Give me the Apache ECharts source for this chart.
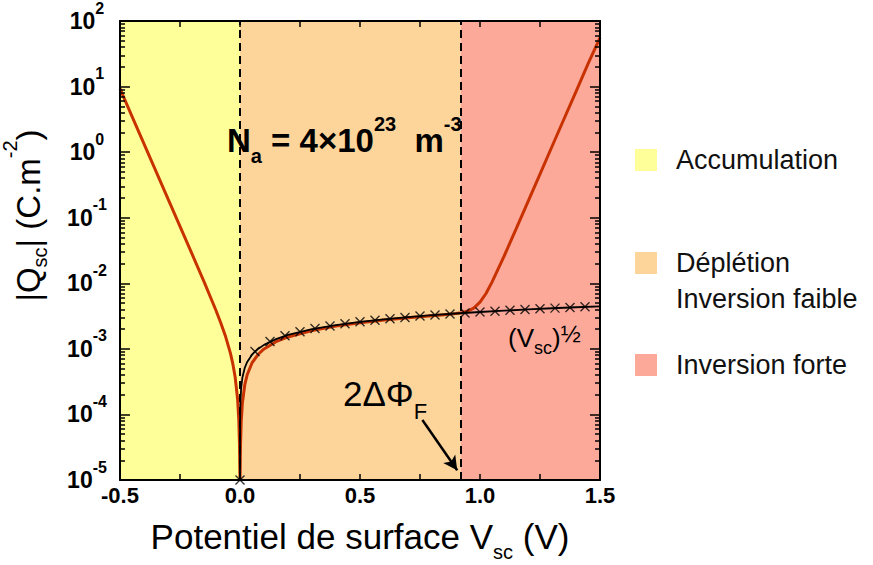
<!DOCTYPE html>
<html><head><meta charset="utf-8">
<script src="https://cdn.jsdelivr.net/npm/echarts@6/dist/echarts.min.js"></script>
<style>html,body{margin:0;padding:0;background:#fff}#c{width:873px;height:565px}</style>
</head><body><div id="c"></div>
<script>
// ---- data ----
const vRed = [-0.5,-0.45,-0.4,-0.35,-0.3,-0.25,-0.2,-0.15,-0.1,-0.08,-0.06,-0.04,-0.03,-0.02,-0.01,-0.005,-0.002,-0.001,0,0.001,0.002,0.005,0.01,0.02,0.03,0.05,0.075,0.1,0.15,0.2,0.3,0.4,0.5,0.6,0.7,0.8,0.85,0.9,0.925,0.95,0.975,1.0,1.025,1.05,1.1,1.15,1.2,1.25,1.3,1.35,1.4,1.45,1.5];
const qRed = [9.3,3.5,1.34,0.51,0.194,0.074,0.028,0.0106,0.00384,0.00248,0.00154,0.00086,0.000595,0.000368,0.000171,0.0000827,0.0000325,0.000016,0.00001,0.000016,0.0000317,0.0000775,0.00015,0.000284,0.000403,0.000609,0.00082,0.000996,0.001285,0.00152,0.00191,0.00223,0.00251,0.00276,0.00299,0.00321,0.00332,0.00345,0.00356,0.00377,0.00421,0.00515,0.00699,0.0104,0.0257,0.0669,0.176,0.463,1.22,3.2,8.4,22.2,56];
const vSqrt = [0,0.00001,0.0001,0.0005,0.001,0.002,0.005,0.01,0.02,0.03,0.05,0.075,0.1,0.15,0.2,0.3,0.4,0.5,0.6,0.7,0.8,0.9,1.0,1.1,1.2,1.3,1.4,1.5];
const qSqrt = [0.00001,0.0000115,0.0000365,0.0000815,0.000115,0.000163,0.000258,0.000365,0.000515,0.000631,0.000815,0.000998,0.00115,0.00141,0.00163,0.002,0.0023,0.00258,0.00282,0.00305,0.00326,0.00346,0.00365,0.00382,0.00399,0.00416,0.00431,0.00446];
const vCross = [0,0.0625,0.125,0.1875,0.25,0.3125,0.375,0.4375,0.5,0.5625,0.625,0.6875,0.75,0.8125,0.875,0.9375,1.0,1.0625,1.125,1.1875,1.25,1.3125,1.375,1.4375];
const qCross = [0.00001,0.000911,0.00129,0.00158,0.00182,0.00204,0.00223,0.00241,0.00258,0.00273,0.00288,0.00302,0.00316,0.00329,0.00341,0.00353,0.00365,0.00376,0.00387,0.00397,0.00408,0.00418,0.00427,0.00437];
const regionNames = ['Accumulation', 'Déplétion\nInversion faible', 'Inversion forte'];
const regionBounds = [[-0.5, 0], [0, 0.92], [0.92, 1.5]];
const dashedAt = [0, 0.915];
const arrowFrom = [0.76, 0.000082];
const arrowTo = [0.905, 0.0000141];

// ---- styling ----
const regionColors = ['#FFFF99', '#FDD49A', '#FDA99A'];
const FONT = "'Liberation Sans', Arial, Helvetica, sans-serif";
const minorLog = [];
for (let e = -5; e < 2; e++) for (let m = 2; m <= 9; m++) minorLog.push(e + Math.log10(m));

const chart = echarts.init(document.getElementById('c'), null, {renderer: 'svg'});
const axisLineStyle = {show: true, onZero: false, lineStyle: {color: '#000', width: 2}};
const noLine = {show: false, onZero: false};
const tickStyle = {color: '#000', width: 1.5};

const regionSeries = regionNames.map((n, i) => ({
  name: n, type: 'line', data: [], z: 1,
  itemStyle: {color: regionColors[i]}, lineStyle: {color: regionColors[i]},
  markArea: {silent: true, itemStyle: {color: regionColors[i], opacity: 1},
    data: [[{xAxis: regionBounds[i][0]}, {xAxis: regionBounds[i][1]}]]}
}));

const legendTops = [142, 209, 347];
const legends = regionNames.map((n, i) => ({
  data: [n], left: 635, top: legendTops[i], orient: 'vertical', icon: 'rect',
  itemWidth: 22, itemHeight: 22, padding: 0, selectedMode: false,
  formatter: name => (name.indexOf('\n') >= 0 ? '\n' + name : name),
  textStyle: {fontSize: 27, color: '#111', fontFamily: FONT, lineHeight: 36, padding: [0, 0, 0, 14]}
}));

chart.setOption({
  animation: false,
  textStyle: {fontFamily: FONT},
  grid: {left: 120, right: 273, top: 21, bottom: 85, containLabel: false, outerBoundsMode: 'none'},
  legend: legends,
  xAxis: [
    {type: 'value', min: -0.5, max: 1.5, interval: 0.5, position: 'bottom', z: 10,
     axisLine: axisLineStyle, splitLine: {show: false},
     axisTick: {inside: true, length: 6, lineStyle: tickStyle},
     minorTick: {show: true, splitNumber: 2, length: 6, lineStyle: tickStyle},
     axisLabel: {margin: 3, fontSize: 22, fontWeight: 'bold', color: '#000', fontFamily: FONT, lineHeight: 24,
       formatter: v => v.toFixed(1)},
     name: '{n|Potentiel de surface V}{sub|sc}{n| (V)}', nameLocation: 'middle', nameGap: 10,
     nameTextStyle: {rich: {
       n: {fontSize: 35, lineHeight: 40, color: '#000', fontFamily: FONT},
       sub: {fontSize: 20, lineHeight: 40, color: '#000', fontFamily: FONT, padding: [30, 0, 0, 0]}
     }}},
    {type: 'value', min: -0.5, max: 1.5, interval: 0.5, position: 'top', z: 10,
     axisLine: axisLineStyle, splitLine: {show: false}, axisLabel: {show: false},
     axisTick: {inside: true, length: 6, lineStyle: tickStyle},
     minorTick: {show: true, splitNumber: 2, length: 6, lineStyle: tickStyle}}
  ],
  yAxis: [
    {type: 'log', logBase: 10, min: 0.00001, max: 100, splitNumber: 7, position: 'left', z: 10,
     axisLine: axisLineStyle, splitLine: {show: false},
     axisTick: {inside: true, length: 10, lineStyle: tickStyle},
     axisLabel: {margin: 33, align: 'center', color: '#000',
       formatter: v => '{b|10}{s|' + Math.round(Math.log10(v)) + '}',
       rich: {
         b: {fontSize: 23, fontWeight: 'bold', lineHeight: 28, color: '#000', fontFamily: FONT},
         s: {fontSize: 16, fontWeight: 'bold', lineHeight: 28, color: '#000', fontFamily: FONT, padding: [0, 0, 26, 0]}
       }},
     name: '{n||Q}{sub|sc}{n|| (C.m}{sup|-2}{n|)}', nameLocation: 'middle', nameRotate: 90, nameGap: 68,
     nameTextStyle: {padding: [0, 0, 0, 70], rich: {
       n: {fontSize: 33, lineHeight: 40, color: '#000', fontFamily: FONT},
       sub: {fontSize: 20, lineHeight: 40, color: '#000', fontFamily: FONT, padding: [24, 0, 0, 0]},
       sup: {fontSize: 20, lineHeight: 40, color: '#000', fontFamily: FONT, padding: [0, 0, 36, 0]}
     }}},
    {type: 'value', min: -5, max: 2, position: 'left', z: 10,
     axisLine: noLine, splitLine: {show: false}, axisLabel: {show: false},
     axisTick: {inside: true, length: 5, lineStyle: tickStyle, customValues: minorLog}},
    {type: 'value', min: -5, max: 2, interval: 1, position: 'right', z: 10,
     axisLine: axisLineStyle, splitLine: {show: false}, axisLabel: {show: false},
     axisTick: {inside: true, length: 10, lineStyle: tickStyle}},
    {type: 'value', min: -5, max: 2, position: 'right', z: 10,
     axisLine: noLine, splitLine: {show: false}, axisLabel: {show: false},
     axisTick: {inside: true, length: 5, lineStyle: tickStyle, customValues: minorLog}}
  ],
  series: [
    ...regionSeries,
    {type: 'line', data: [], z: 2, markLine: {silent: true, symbol: ['none', 'none'], label: {show: false},
      lineStyle: {type: [8, 5], color: '#000', width: 2},
      data: dashedAt.map(x => ({xAxis: x}))}},
    {type: 'line', data: [], z: 6, markLine: {silent: true, symbol: ['none', 'arrow'], symbolSize: [11, 14], label: {show: false},
      lineStyle: {type: 'solid', color: '#000', width: 2.5},
      data: [[{coord: arrowFrom}, {coord: arrowTo}]]}},
    {name: 'Qsc', type: 'line', showSymbol: false, z: 3, data: vRed.map((v, i) => [v, qRed[i]]),
     lineStyle: {color: '#C83200', width: 3}, itemStyle: {color: '#C83200'}},
    {name: 'sqrt', type: 'line', showSymbol: false, z: 4, data: vSqrt.map((v, i) => [v, qSqrt[i]]),
     lineStyle: {color: '#000', width: 1.8}, itemStyle: {color: '#000'}},
    {name: 'cross', type: 'scatter', z: 5, data: vCross.map((v, i) => [v, qCross[i]]),
     symbol: 'path://M0,0L10,10M10,0L0,10', symbolSize: 9,
     itemStyle: {color: 'rgba(0,0,0,0)', borderColor: '#000', borderWidth: 1.4}}
  ],
  graphic: [
    {type: 'text', x: 227, y: 140, z: 20, style: {
      text: '{n|N}{sub|a}{n| = 4×10}{sup|23}{n|  m}{sup|-3}', verticalAlign: 'middle',
      rich: {
        n: {fontSize: 33, fontWeight: 'bold', lineHeight: 40, fill: '#000', fontFamily: FONT},
        sub: {fontSize: 20, fontWeight: 'bold', lineHeight: 40, fill: '#000', fontFamily: FONT, padding: [31, 0, 0, 0]},
        sup: {fontSize: 20, fontWeight: 'bold', lineHeight: 40, fill: '#000', fontFamily: FONT, padding: [0, 0, 33, 0]}
      }}},
    {type: 'text', x: 508, y: 338, z: 20, style: {
      text: '{n|(V}{sub|sc}{n|)}{sup|½}', verticalAlign: 'middle',
      rich: {
        n: {fontSize: 26, lineHeight: 34, fill: '#000', fontFamily: FONT},
        sub: {fontSize: 18, lineHeight: 34, fill: '#000', fontFamily: FONT, padding: [20, 0, 0, 0]},
        sup: {fontSize: 24, lineHeight: 34, fill: '#000', fontFamily: FONT, padding: [0, 0, 10, 0]}
      }}},
    {type: 'text', x: 343, y: 393, z: 20, style: {
      text: '{n|2ΔΦ}{sub|F}', verticalAlign: 'middle',
      rich: {
        n: {fontSize: 35, lineHeight: 40, fill: '#000', fontFamily: FONT},
        sub: {fontSize: 22, lineHeight: 40, fill: '#000', fontFamily: FONT, padding: [36, 0, 0, 0]}
      }}}
  ]
});
</script></body></html>
